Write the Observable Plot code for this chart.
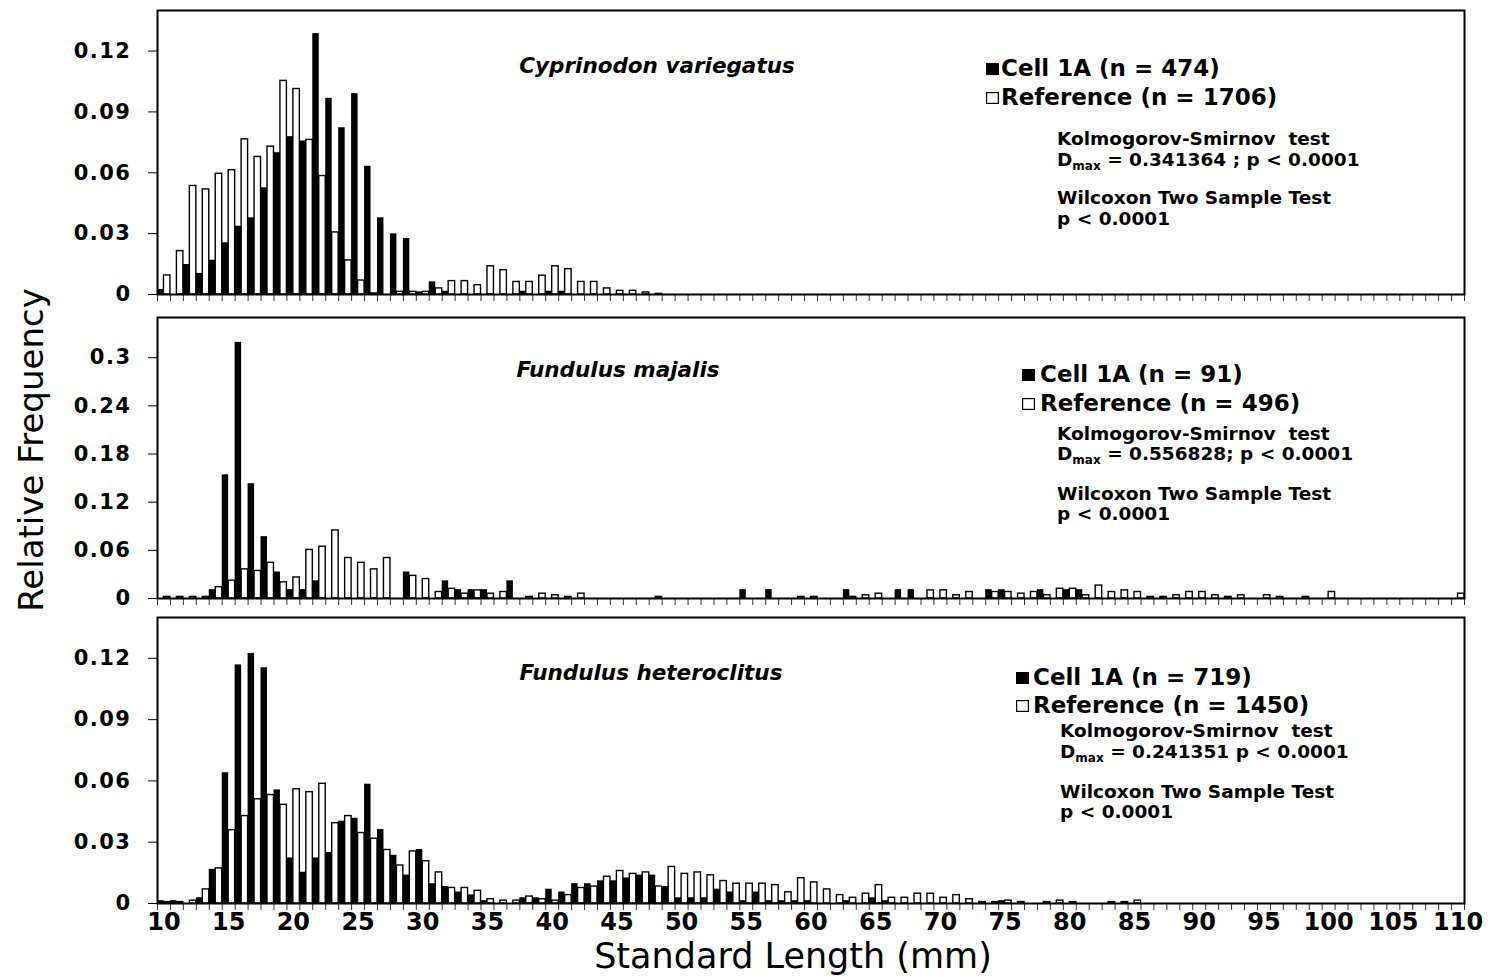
<!DOCTYPE html>
<html>
<head>
<meta charset="utf-8">
<script src="https://cdn.jsdelivr.net/npm/d3@7"></script>
<script src="https://cdn.jsdelivr.net/npm/@observablehq/plot@0.6"></script>
<style>
html,body{margin:0;padding:0;background:#fff;}
#wrap{position:relative;width:1488px;height:977px;overflow:hidden;background:#fff;}
#ytitle{position:absolute;left:31px;top:450px;transform:translate(-50%,-50%) rotate(-90deg);font-family:"DejaVu Sans";font-size:34px;white-space:nowrap;line-height:1;color:#000;}
</style>
</head>
<body>
<div id="wrap"><div id="ytitle">Relative Frequency</div></div>
<script>
// Categories: standard length (mm)
const lengths = [10,11,12,13,14,15,16,17,18,19,20,21,22,23,24,25,26,27,28,29,30,31,32,33,34,35,36,37,38,39,
  40,41,42,43,44,45,46,47,48,49,50,51,52,53,54,55,56,57,58,59,60,61,62,63,64,65,66,67,68,69,
  70,71,72,73,74,75,76,77,78,79,80,81,82,83,84,85,86,87,88,89,90,91,92,93,94,95,96,97,98,99,
  100,101,102,103,104,105,106,107,108,109,110];
const xTickLabels = [10,15,20,25,30,35,40,45,50,55,60,65,70,75,80,85,90,95,100,105,110];

// Cyprinodon variegatus
const cvCell = [
  0.0025,0,0.0148,0.0104,0.0169,0.0255,0.0337,0.0378,0.0526,0.0699,
  0.0778,0.0757,0.1286,0.0967,0.0822,0.099,0.0632,0.0378,0.0299,0.0276,
  0.0013,0.0062,0.0016,0,0,0,0,0,0.0016,0,
  0.0016,0.0016,0,0,0,0,0,0,0,0,
  0,0,0,0,0,0,0,0,0,0,
  0,0,0,0,0,0,0,0,0,0,
  0,0,0,0,0,0,0,0,0,0,
  0,0,0,0,0,0,0,0,0,0,
  0,0,0,0,0,0,0,0,0,0,
  0,0,0,0,0,0,0,0,0,0,
  0];
const cvRef = [
  0.0094,0.0214,0.0535,0.0518,0.0595,0.0613,0.0765,0.0678,0.0729,0.1053,
  0.1013,0.0762,0.0584,0.0306,0.0168,0.0069,0.0005,0,0.0013,0.0013,
  0.0013,0.003,0.0066,0.0066,0.0046,0.0139,0.012,0.0062,0.0062,0.0093,
  0.0139,0.0125,0.0062,0.0062,0.003,0.0018,0.0018,0.001,0.0003,0,
  0,0,0,0,0,0,0,0,0,0,
  0,0,0,0,0,0,0,0,0,0,
  0,0,0,0,0,0,0,0,0,0,
  0,0,0,0,0,0,0,0,0,0,
  0,0,0,0,0,0,0,0,0,0,
  0,0,0,0,0,0,0,0,0,0,
  0];

// Fundulus majalis
const fmCell = [
  0,0,0,0,0.011,0.154,0.319,0.143,0.077,0.033,
  0.011,0.011,0.022,0,0,0,0,0,0,0.033,
  0,0,0.022,0.011,0.011,0.011,0,0.022,0,0,
  0,0,0,0,0,0,0,0,0,0,
  0,0,0,0,0,0.011,0,0.011,0,0,
  0,0,0,0.011,0,0,0,0.011,0.011,0,
  0,0,0,0,0.011,0.011,0,0,0.011,0,
  0.011,0.011,0,0,0,0,0,0,0,0,
  0,0,0,0,0,0,0,0,0,0,
  0,0,0,0,0,0,0,0,0,0,
  0];
const fmRef = [
  0.002,0.002,0.002,0.002,0.0141,0.0222,0.0363,0.0343,0.0444,0.0202,
  0.0262,0.0605,0.0645,0.0847,0.0504,0.0444,0.0363,0.0504,0,0.0282,
  0.0242,0.0081,0.0121,0.006,0.0101,0.006,0.0081,0,0.002,0.006,
  0.004,0.002,0.006,0,0,0,0,0,0.002,0,
  0,0,0,0,0,0,0,0,0,0.002,
  0.002,0,0,0.002,0.004,0.006,0,0,0,0.0101,
  0.0101,0.004,0.0081,0,0.0081,0.0081,0.006,0.0081,0.004,0.0121,
  0.0121,0.004,0.0161,0.0081,0.0101,0.0081,0.002,0.002,0.004,0.0081,
  0.0081,0.004,0.002,0.004,0,0.004,0.002,0,0.002,0,
  0.0081,0,0,0,0,0,0,0,0,0,
  0.006];

// Fundulus heteroclitus
const fhCell = [
  0.0014,0.0014,0,0.0028,0.0167,0.064,0.1168,0.1224,0.1154,0.0556,
  0.0223,0.0153,0.0223,0.025,0.0403,0.0417,0.0584,0.0362,0.0236,0.0139,
  0.0264,0.0097,0.0083,0.0056,0.0042,0.0014,0,0,0.0028,0.0028,
  0.007,0.0056,0.0097,0.0097,0.0111,0.0111,0.0125,0.0139,0.0139,0.0083,
  0.0028,0.0028,0.0028,0.007,0.0056,0.0014,0.0056,0.0014,0.0014,0.0014,
  0.0014,0,0,0.0014,0,0.0028,0.0014,0,0,0,
  0,0,0,0,0,0.0014,0,0,0,0,
  0,0,0,0,0,0,0,0,0,0,
  0,0,0,0,0,0,0,0,0,0,
  0,0,0,0,0,0,0,0,0,0,
  0];
const fhRef = [
  0.0007,0.0007,0.0014,0.0069,0.0172,0.0359,0.0428,0.051,0.0531,0.0483,
  0.0559,0.0545,0.0586,0.0393,0.0428,0.0345,0.0317,0.0262,0.0186,0.0255,
  0.0207,0.0152,0.0076,0.0076,0.0062,0.0021,0.0014,0.0014,0.0034,0.0021,
  0.0014,0.0041,0.0076,0.0083,0.0131,0.0159,0.0145,0.0152,0.0083,0.0179,
  0.0145,0.0152,0.0138,0.011,0.0097,0.0097,0.0097,0.009,0.0055,0.0124,
  0.0103,0.0069,0.0041,0.0028,0.0048,0.009,0.0028,0.0028,0.0048,0.0048,
  0.0028,0.0041,0.0021,0.0007,0.0007,0.0014,0.0007,0,0.0007,0.0014,
  0.0007,0,0,0.0007,0.0007,0.0014,0,0,0,0,
  0,0,0,0,0,0,0,0,0,0,
  0,0,0,0,0,0,0,0,0,0,
  0];

const speciesNames = ["Cyprinodon variegatus", "Fundulus majalis", "Fundulus heteroclitus"];
const cellLabels = ["Cell 1A (n = 474)", "Cell 1A (n = 91)", "Cell 1A (n = 719)"];
const refLabels = ["Reference (n = 1706)", "Reference (n = 496)", "Reference (n = 1450)"];
const dmaxTexts = [" = 0.341364 ; p < 0.0001", " = 0.556828; p < 0.0001", " = 0.241351 p < 0.0001"];
const yTicks1 = [0, 0.03, 0.06, 0.09, 0.12];
const yTicks2 = [0, 0.06, 0.12, 0.18, 0.24, 0.3];
const yTicks3 = [0, 0.03, 0.06, 0.09, 0.12];

// layout (absolute page coordinates)
const layout = [
  {cell: cvCell, ref: cvRef, yDomain: [0, 0.14], yTicks: yTicks1, top: 0, mt: 10, ih: 284, mb: 14, labels: false,
   tx: 657, ty: 73, legX: 986, legTX: 1001, l1: 76, l2: 105, sx: 1057, ks: 145, dm: 166, wi: 204, pv: 225},
  {cell: fmCell, ref: fmRef, yDomain: [0, 0.35], yTicks: yTicks2, top: 307, mt: 10, ih: 281, mb: 14, labels: false,
   tx: 618, ty: 377, legX: 1022, legTX: 1040, l1: 382, l2: 411, sx: 1057, ks: 440, dm: 460, wi: 500, pv: 520},
  {cell: fhCell, ref: fhRef, yDomain: [0, 0.14], yTicks: yTicks3, top: 607, mt: 10, ih: 286, mb: 74, labels: true,
   tx: 651, ty: 680, legX: 1016, legTX: 1033, l1: 685, l2: 713, sx: 1060, ks: 737, dm: 758, wi: 798, pv: 818}
];

const wrap = document.getElementById("wrap");

layout.forEach((p, k) => {
  const rows = lengths.map((len, i) => ({len, cell: p.cell[i], ref: p.ref[i]}));
  const bounds = lengths.map(d => d - 0.5).concat([lengths[lengths.length - 1] + 0.5]);
  const marks = [
    Plot.rectY(rows, {x1: d => d.len, x2: d => d.len + 0.5, y1: 0, y2: "ref", fill: "white", stroke: "black", strokeWidth: 1.4, inset: 0}),
    Plot.rectY(rows, {x1: d => d.len - 0.5, x2: d => d.len, y1: 0, y2: "cell", fill: "black", inset: 0}),
    Plot.axisY({ticks: p.yTicks, tickSize: 9, tickPadding: 17, tickFormat: d => String(d), fontSize: 21, fontWeight: "bold", stroke: "black"}),
    Plot.axisX({ticks: bounds, tickSize: 7, tickFormat: () => "", stroke: "#333"}),
    Plot.frame({stroke: "black", strokeWidth: 2})
  ];
  if (p.labels) marks.push(Plot.axisX({ticks: xTickLabels, tickSize: 0, tickPadding: 9, fontSize: 24, fontWeight: "bold"}));
  const svg = Plot.plot({
    width: 1488,
    height: p.mt + p.ih + p.mb,
    marginLeft: 157, marginRight: 24, marginTop: p.mt, marginBottom: p.mb,
    x: {domain: [bounds[0], bounds[bounds.length - 1]], label: null},
    y: {domain: p.yDomain, label: null},
    style: {background: "transparent", fontFamily: "DejaVu Sans", color: "black", overflow: "visible"},
    marks
  });
  svg.style.position = "absolute";
  svg.style.left = "0px";
  svg.style.top = p.top + "px";
  wrap.appendChild(svg);

  const s = d3.select(svg);
  s.selectAll('g[aria-label="y-axis tick label"] text').style("letter-spacing", "1.5px");
  const oy = p.top;
  const g = s.append("g").attr("font-family", "DejaVu Sans").attr("font-weight", "bold")
    .attr("fill", "black").attr("text-anchor", "start");
  g.append("text").attr("x", p.tx).attr("y", p.ty - oy).attr("text-anchor", "middle")
    .attr("font-style", "italic").attr("font-size", 21.5).text(speciesNames[k]);
  g.append("rect").attr("x", p.legX).attr("y", p.l1 - oy - 13).attr("width", 13).attr("height", 12).attr("fill", "black");
  g.append("text").attr("x", p.legTX).attr("y", p.l1 - oy).attr("font-size", 23).text(cellLabels[k]);
  g.append("rect").attr("x", p.legX + 0.6).attr("y", p.l2 - oy - 12.4).attr("width", 11.8).attr("height", 10.8)
    .attr("fill", "white").attr("stroke", "black").attr("stroke-width", 1.2);
  g.append("text").attr("x", p.legTX).attr("y", p.l2 - oy).attr("font-size", 23).text(refLabels[k]);
  g.append("text").attr("x", p.sx).attr("y", p.ks - oy).attr("font-size", 18.5).attr("xml:space", "preserve").text("Kolmogorov-Smirnov  test");
  const dt = g.append("text").attr("x", p.sx).attr("y", p.dm - oy).attr("font-size", 18.5);
  dt.append("tspan").text("D");
  dt.append("tspan").attr("font-size", 12).attr("dy", 4).text("max");
  dt.append("tspan").attr("dy", -4).text(dmaxTexts[k]);
  g.append("text").attr("x", p.sx).attr("y", p.wi - oy).attr("font-size", 18.5).text("Wilcoxon Two Sample Test");
  g.append("text").attr("x", p.sx).attr("y", p.pv - oy).attr("font-size", 18.5).text("p < 0.0001");

  if (p.labels) {
    s.append("text").attr("x", 793).attr("y", 968 - oy).attr("text-anchor", "middle")
      .attr("font-family", "DejaVu Sans").attr("font-size", 35).attr("fill", "black").text("Standard Length (mm)");
  }
});
</script>
</body>
</html>
